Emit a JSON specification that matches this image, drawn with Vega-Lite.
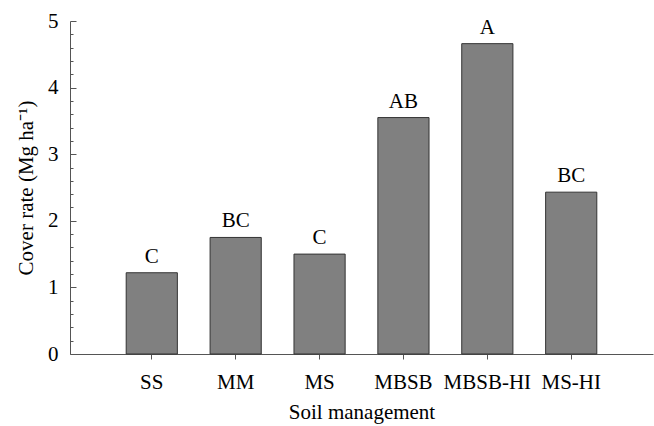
{
  "$schema": "https://vega.github.io/schema/vega-lite/v6.json",
  "autosize": "none",
  "width": 583,
  "height": 333,
  "padding": {"left": 70, "top": 21, "right": 1, "bottom": 72},
  "background": "white",
  "config": {
    "view": {"stroke": null},
    "font": "Liberation Serif",
    "axis": {"grid": false, "labelFont": "Liberation Serif", "titleFont": "Liberation Serif", "labelFontSize": 21, "titleFontSize": 21, "titleFontWeight": "normal", "labelColor": "black", "titleColor": "black", "domainColor": "#555", "tickColor": "#555"}
  },
  "data": {"values": [
    {"management": "SS", "rate": 1.22, "group": "C"},
    {"management": "MM", "rate": 1.75, "group": "BC"},
    {"management": "MS", "rate": 1.5, "group": "C"},
    {"management": "MBSB", "rate": 3.55, "group": "AB"},
    {"management": "MBSB-HI", "rate": 4.66, "group": "A"},
    {"management": "MS-HI", "rate": 2.43, "group": "BC"}
  ]},
  "encoding": {
    "x": {"field": "management", "type": "nominal", "sort": null,
      "scale": {"paddingInner": 0.39, "paddingOuter": 0.67},
      "axis": {"title": "Soil management", "labelAngle": 0, "tickSize": 5, "labelPadding": 12, "titlePadding": 9}},
    "y": {"field": "rate", "type": "quantitative", "scale": {"domain": [0, 5], "nice": false},
      "axis": {"title": "Cover rate (Mg ha⁻¹)",
        "values": [0,0.2,0.4,0.6,0.8,1,1.2,1.4,1.6,1.8,2,2.2,2.4,2.6,2.8,3,3.2,3.4,3.6,3.8,4,4.2,4.4,4.6,4.8,5],
        "labelExpr": "datum.value % 1 == 0 ? format(datum.value, 'd') : ''",
        "labelOverlap": false,
        "tickSize": {"condition": {"test": "datum.value % 1 == 0", "value": -6}, "value": -3},
        "labelPadding": 18, "titlePadding": 11}}
  },
  "layer": [
    {"mark": {"type": "bar", "fill": "#808080", "stroke": "#333333", "strokeWidth": 1}},
    {"mark": {"type": "text", "baseline": "alphabetic", "dy": -10, "fontSize": 21, "font": "Liberation Serif", "color": "black"},
     "encoding": {"text": {"field": "group"}}}
  ]
}
